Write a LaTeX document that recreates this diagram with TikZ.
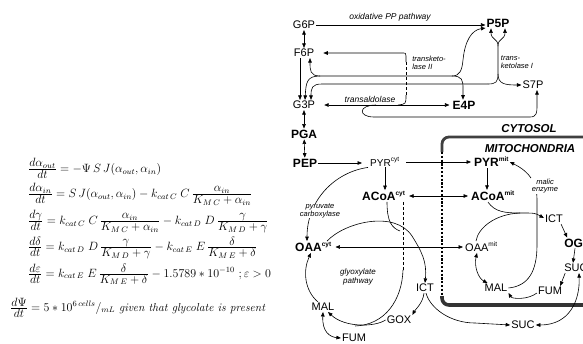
\documentclass[tikz,border=0pt]{standalone}
\usepackage{amsmath}
\usepackage{fontspec}
\newfontfamily\diagfont{Liberation Sans}
\usetikzlibrary{arrows.meta}
\newcommand{\supx}[1]{\raisebox{0.8ex}{\fontsize{6.5}{6.5}\selectfont #1}}
\newcommand{\cfr}[2]{\genfrac{}{}{}{1}{\displaystyle #1\vphantom{d}}{\displaystyle #2}}
\begin{document}
\begin{tikzpicture}[x=1pt,y=-1pt,
  lab/.style={font=\diagfont\fontsize{11}{12}\selectfont, inner sep=1pt},
  bl/.style={font=\diagfont\bfseries\fontsize{12}{13}\selectfont, inner sep=1pt},
  itl/.style={font=\diagfont\itshape\fontsize{7.5}{7.5}\selectfont, inner sep=0.5pt},
  ttl/.style={font=\diagfont\bfseries\itshape\fontsize{11.5}{12}\selectfont, inner sep=0.5pt},
  eq/.style={font=\fontsize{11.6}{13}\selectfont, inner sep=0pt, anchor=base west},
  ln/.style={line width=0.6pt},
  arr/.style={ln, -{Triangle[length=4.5pt,width=3.6pt]}},
  darr/.style={ln, {Triangle[length=4.5pt,width=3.6pt]}-{Triangle[length=4.5pt,width=3.6pt]}},
  dsh/.style={ln, dash pattern=on 3pt off 2pt}]
\useasboundingbox (0,0) rectangle (583,343);
\fill[white] (0,0) rectangle (583,343);

% ---------------- equations ----------------
\node[eq] (e1) at (28,172.5) {$\cfr{d\alpha_{out}}{dt} = -\Psi\, S\, J(\alpha_{out},\alpha_{in})$};
\node[eq] (e2) at (28,197.5) {$\cfr{d\alpha_{in}}{dt} = S\, J(\alpha_{out},\alpha_{in}) - k_{cat\,C}\; C\, \cfr{\alpha_{in}}{K_{M\,C}+\alpha_{in}}$};
\node[eq] (e3) at (28,224.5) {$\cfr{d\gamma}{dt} = k_{cat\,C}\; C\, \cfr{\alpha_{in}}{K_{M\,C}+\alpha_{in}} - k_{cat\,D}\; D\, \cfr{\gamma}{K_{M\,D}+\gamma}$};
\node[eq] (e4) at (28,250.5) {$\cfr{d\delta}{dt} = k_{cat\,D}\; D\, \cfr{\gamma}{K_{M\,D}+\gamma} - k_{cat\,E}\; E\, \cfr{\delta}{K_{M\,E}+\delta}$};
\node[eq] (e5) at (28,277) {$\cfr{d\varepsilon}{dt} = k_{cat\,E}\; E\, \cfr{\delta}{K_{M\,E}+\delta} - 1.5789 * 10^{-10}\ ; \varepsilon > 0$};
\node[eq] (e6) at (10,311) {$\cfr{d\Psi}{dt} = 5 * 10^{6\,cells}{/}_{mL}\ \textit{given that glycolate is present}$};

% ---------------- mitochondria box ----------------
\draw[line width=2.8pt, black!75, rounded corners=7pt] (442,152) -- (442,137) -- (592,137);
\draw[line width=2.6pt, dash pattern=on 2.2pt off 1.6pt] (442,152) -- (442,296);
\draw[line width=3.6pt, black!80, rounded corners=7pt] (442,296) -- (442,305) -- (592,305);

% ---------------- metabolite nodes ----------------
\node[lab] (G6P) at (304,25) {G6P};
\node[lab] (F6P) at (304,53) {F6P};
\node[lab] (G3P) at (304,105) {G3P};
\node[bl] (PGA) at (304,134) {PGA};
\node[bl] (PEP) at (305,163) {PEP};
\node[bl] (P5P) at (498,23) {P5P};
\node[bl] (E4P) at (464,105) {E4P};
\node[lab] (S7P) at (533,85) {S7P};
\node[lab, anchor=west, font=\diagfont\fontsize{10}{11}\selectfont] (PYRc) at (369,162) {PYR\supx{cyt}};
\node[bl, anchor=west] (PYRm) at (473,162) {PYR\supx{mit}};
\node[bl, anchor=west] (ACoAc) at (361,196) {ACoA\supx{cyt}};
\node[bl, anchor=west] (ACoAm) at (470,196) {ACoA\supx{mit}};
\node[bl, anchor=west] (OAAc) at (294,247) {OAA\supx{cyt}};
\node[lab, anchor=west] (OAAm) at (464,247) {OAA\supx{mit}};
\node[lab] (ICTc) at (425,288) {ICT};
\node[lab] (GOX) at (399,320) {GOX};
\node[lab] (MALc) at (323,307) {MAL};
\node[lab] (FUMc) at (354,338) {FUM};
\node[lab] (SUCc) at (523,325) {SUC};
\node[lab] (ICTm) at (554,219) {ICT};
\node[bl] (OGA) at (578,243) {OGA};
\node[lab] (SUCm) at (576,268) {SUC};
\node[lab] (FUMm) at (550,291) {FUM};
\node[lab] (MALm) at (496,288) {MAL};

\coordinate (tkA) at (452,76);
\coordinate (tkB) at (320,76);
\coordinate (tkC) at (488,84);
\coordinate (tkD) at (498,46);
\coordinate (tkE) at (498,74);
\coordinate (taA) at (406,62);
\coordinate (taB) at (406,95);
\coordinate (cs) at (400,231);
\coordinate (msA) at (403,270);
\coordinate (msB) at (355,326);
\coordinate (csm) at (520,213);

% ---------------- upper (PP pathway) connectors ----------------
\draw[arr] (G6P.east) -- (P5P.west |- G6P.east);
\draw[darr] (G6P) -- (F6P);
\draw[arr] ([xshift=-4pt]F6P.south) -- ([xshift=-4pt]G3P.north);
\draw[darr] ([xshift=6pt]F6P.south) .. controls +(0,12) and (310,76) .. (tkB) -- (tkA)
   .. controls (460,76) and (462,70) .. (463,60) .. controls (465,40) and (472,30) .. ([yshift=-5pt]P5P.west);
\draw[arr] (tkA) .. controls (462,76) and (463,80) .. (463,88) -- ([xshift=-1pt]E4P.north);
\draw[arr] (tkB) .. controls (307,76) and (306,82) .. ([xshift=1pt]G3P.north);
\draw[arr] (tkC) -- (322,84) .. controls (312,84) and (311,88) .. ([xshift=7pt]G3P.north);
\draw[ln] (tkC) .. controls (496,84) and (498,82) .. (tkE) -- (tkD);
\draw[arr] (tkD) .. controls (498,38) and (491,40) .. ([xshift=-7pt]P5P.south);
\draw[arr] (tkD) .. controls (498,38) and (505,40) .. ([xshift=7pt]P5P.south);
\draw[arr] (tkE) .. controls (498,84) and (505,85) .. (S7P.west);
\draw[arr] (taA) -- (406,56) .. controls (406,53) .. (401,53) -- ([xshift=8pt]F6P.east);
\draw[dsh] (taA) -- (taB);
\draw[ln] (taB) .. controls (406,104) .. (398,105);
\draw[darr] ([xshift=8pt]G3P.east) -- ([xshift=-2pt]E4P.west);
\draw[arr] (376,105) .. controls (358,105) and (358,117) .. (374,117) -- (530,117)
   .. controls (537,117) and (537,112) .. (537,106) -- ([xshift=4pt]S7P.south);

% ---------------- lower connectors ----------------
\draw[darr] (G3P) -- (PGA);
\draw[darr] (PGA) -- (PEP);
\draw[arr, shorten >=7pt] (PEP.east) -- (PYRc.west |- PEP.east);
\draw[arr, shorten <=6pt, shorten >=2pt] (PYRc.east) -- (PYRm.west);
\draw[arr] ([xshift=16pt]PYRc.south west) -- ([xshift=24pt]ACoAc.north west);
\draw[darr, shorten <=3pt, shorten >=2pt] (ACoAc.east) -- (ACoAm.west);
\draw[arr] ([xshift=14pt]PYRm.south west) -- ([xshift=17pt]ACoAm.north west);
\draw[darr, shorten <=3pt, shorten >=1pt] (OAAc.east) -- (OAAm.west);

\draw[arr] ([xshift=-1pt]PYRc.south west) .. controls (335,172) and (307,200) .. ([xshift=13pt]OAAc.north west);
\draw[arr] ([xshift=33pt]OAAc.north west) .. controls (345,222) and (395,210) .. (412,236)
   .. controls (422,252) and (427,262) .. (ICTc.north);
\draw[ln] ([xshift=26pt]ACoAc.south west) .. controls (387,222) and (392,228) .. (cs);
\draw[dsh] ([xshift=42pt]ACoAc.south west) -- (msA);
\draw[ln] (msA) .. controls (402,300) and (385,325) .. (msB);
\draw[arr] (GOX.west) .. controls (375,327) and (345,328) .. ([xshift=5pt]MALc.south);
\draw[arr] ([xshift=-1pt]ICTc.south) .. controls (423,303) and (415,310) .. (GOX.north east);
\draw[arr] ([xshift=1pt]ICTc.south) .. controls (430,308) and (450,323) .. (475,323) -- (SUCc.west);
\draw[arr] ([xshift=-5pt]MALc.north) .. controls (304,290) and (303,270) .. ([xshift=17pt]OAAc.south west);
\draw[darr] (MALc.south) .. controls (322,332) and (330,337) .. (FUMc.west);

% mitochondrial
\draw[darr] ([xshift=13pt]OAAm.south west) .. controls (474,266) and (478,278) .. ([xshift=4pt]MALm.north west);
\draw[arr] ([yshift=-2pt]FUMm.west) .. controls (528,300) and (512,299) .. (MALm.south east);
\draw[arr] (MALm.east) .. controls (528,286) and (537,272) .. (537,245) -- (537,200)
   .. controls (537,183) and (530,172) .. (PYRm.east);
\draw[arr] ([xshift=18pt]ACoAm.south west) .. controls (495,212) and (505,213) .. (csm)
   .. controls (535,213) .. ([yshift=1pt]ICTm.west);
\draw[ln] ([xshift=12pt]OAAm.north west) .. controls (478,228) and (495,214) .. (csm);
\draw[arr] ([xshift=-3pt]ICTm.south east) -- ([xshift=4pt]OGA.north west);
\draw[arr] ([xshift=-3pt]OGA.south) -- ([xshift=-3pt]SUCm.north);
\draw[arr] ([xshift=2pt]SUCm.south west) -- ([xshift=-3pt]FUMm.north east);
\draw[darr] ([xshift=3pt]SUCm.south) .. controls (580,300) and (570,325) .. (SUCc.east);

% ---------------- text labels ----------------
\node[itl, font=\diagfont\itshape\fontsize{8.5}{9}\selectfont] (oxpp) at (390,17) {oxidative PP pathway};
\node[itl, align=left] (tk2) at (429,63) {transketo-\\lase II};
\node[itl, align=left] (tk1) at (517,62) {trans-\\ketolase I};
\node[itl, font=\diagfont\itshape\fontsize{8.5}{9}\selectfont] (tald) at (370,99) {transaldolase};
\node[itl, align=center, fill=white] (pc) at (320,211) {pyruvate\\carboxylase};
\node[itl, align=center, font=\diagfont\itshape\fontsize{8}{8.5}\selectfont] (glx) at (358,277) {glyoxylate\\pathway};
\node[itl, align=center, fill=white] (me) at (545,186) {malic\\enzyme};
\node[ttl] (cyto) at (529,129) {CYTOSOL};
\node[ttl] (mito) at (530,149) {MITOCHONDRIA};
\end{tikzpicture}
\end{document}
